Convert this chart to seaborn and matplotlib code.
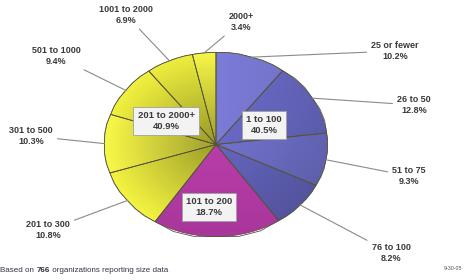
import numpy as np
import matplotlib
matplotlib.use("Agg")
import matplotlib.pyplot as plt
import matplotlib.colors as mcolors
import seaborn as sns

categories = ["25 or fewer", "26 to 50", "51 to 75", "76 to 100", "101 to 200",
              "201 to 300", "301 to 500", "501 to 1000", "1001 to 2000", "2000+"]
values = [10.2, 12.8, 9.3, 8.2, 18.7, 10.8, 10.3, 9.4, 6.9, 3.4]
group_labels = ["1 to 100", "101 to 200", "201 to 2000+"]
group_values = [40.5, 18.7, 40.9]
n_orgs = 766
date_text = "9-30-05"

sns.set_theme(style="white")
plt.rcParams["font.family"] = ["Liberation Sans", "DejaVu Sans"]

colors = ["#7272c8", "#6262b8", "#6a6ac0", "#5e5eb2", "#bb3dab",
          "#e6e63e", "#eaea44", "#e4e43c", "#e0e03a", "#e8e842"]
group_of = ["b", "b", "b", "b", "m", "y", "y", "y", "y", "y"]

W, H = 468, 280
fig = plt.figure(figsize=(W / 100, H / 100), dpi=100)
fig.patch.set_facecolor("white")

ax = fig.add_axes([104 / W, (H - 237) / H, 224 / W, 185 / H])
wedges, _ = ax.pie(values, startangle=90, counterclock=False, colors=colors,
                   wedgeprops=dict(edgecolor="#55553a", linewidth=0.6))
ax.set_aspect("auto")
ax.set_xlim(-1.005, 1.005)
ax.set_ylim(-1.005, 1.005)
ax.axis("off")

gx, gy = np.meshgrid(np.linspace(-1.005, 1.005, 300), np.linspace(-1.005, 1.005, 300))
rr = np.clip(np.hypot(gx, gy), 0, 1)
for w, c, g in zip(wedges, colors, group_of):
    base = np.array(mcolors.to_rgb(c))
    if g == "y":
        f = 0.68 + 0.38 * rr
    elif g == "b":
        f = 1.08 - 0.16 * (gx - gy) / 2 - 0.08 * rr
    else:
        f = 1.08 - 0.18 * (-gy + 1) / 2
    img = np.clip(base[None, None, :] * f[..., None], 0, 1)
    im = ax.imshow(img, extent=(-1.005, 1.005, -1.005, 1.005), origin="lower",
                   aspect="auto", zorder=w.get_zorder() + 0.1,
                   interpolation="bilinear")
    im.set_clip_path(w)
    ax.add_patch(plt.Polygon(w.get_path().vertices, closed=True, fill=False,
                             ec="#55553a", lw=0.6, zorder=w.get_zorder() + 0.2,
                             transform=w.get_transform()))

label_pos = [(395, 51), (414, 105), (409, 176), (391, 253), None,
             (48, 230), (31, 136), (56, 56), (126, 15), (241, 22)]

txt_color = "#3a3a3a"
for w, cat, v, pos in zip(wedges, categories, values, label_pos):
    if pos is None:
        continue
    ang = np.deg2rad((w.theta1 + w.theta2) / 2)
    xy = (np.cos(ang), np.sin(ang))
    ax.annotate(f"{cat}\n{v}%", xy=xy, xycoords="data",
                xytext=(pos[0], H - pos[1]), textcoords="figure pixels",
                ha="center", va="center", fontsize=6.5, fontweight="bold",
                color=txt_color, linespacing=1.25, annotation_clip=False,
                arrowprops=dict(arrowstyle="-", color="#8a8a8a", lw=0.8,
                                shrinkA=1, shrinkB=0), zorder=5)

box_pos = [(264, 125), (209, 207), (166, 121)]
for lab, v, pos in zip(group_labels, group_values, box_pos):
    fig.text(pos[0] / W, 1 - pos[1] / H, f"{lab}\n{v}%", ha="center", va="center",
             fontsize=6.8, fontweight="bold", color=txt_color, linespacing=1.3,
             zorder=10,
             bbox=dict(boxstyle="square,pad=0.45", fc="#f3f3f3", ec="#a0a0a0", lw=0.6))

renderer = fig.canvas.get_renderer()
x = 0.5
y = 1 - 271 / H
parts = [("Based on ", "normal"), (str(n_orgs), "bold"),
         (" organizations reporting size data", "normal")]
for s, wt in parts:
    t = fig.text(x / W, y, s, ha="left", va="center", fontsize=5.8,
                 fontweight=wt, color="#333344")
    bb = t.get_window_extent(renderer=renderer)
    x += bb.width
fig.text(462 / W, 1 - 268 / H, date_text, ha="right", va="center",
         fontsize=3.8, color="#555555")

fig.savefig("out.png", dpi=100, facecolor="white")
